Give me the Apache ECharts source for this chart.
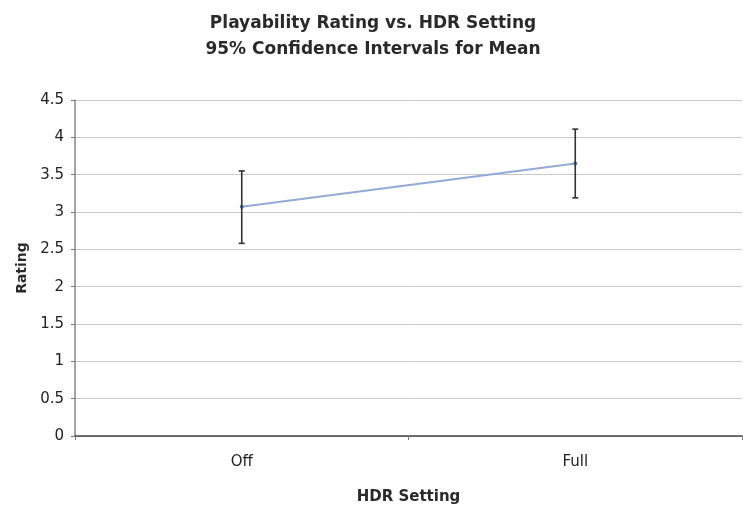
<!DOCTYPE html>
<html><head><meta charset="utf-8">
<script src="https://cdn.jsdelivr.net/npm/echarts@6/dist/echarts.min.js"></script>
<style>html,body{margin:0;padding:0;background:#fff}#c{width:743px;height:505px}</style>
</head><body><div id="c"></div>
<script>
const categories = ['Off', 'Full'];
const means = [3.07, 3.65];
const lower = [2.58, 3.19];
const upper = [3.55, 4.11];
const yTicks = [0, 0.5, 1, 1.5, 2, 2.5, 3, 3.5, 4, 4.5];

const chart = echarts.init(document.getElementById('c'));
const font = '"DejaVu Sans", Verdana, sans-serif';
chart.setOption({
  animation: false,
  backgroundColor: '#fff',
  title: {
    text: 'Playability Rating vs. HDR Setting\n95% Confidence Intervals for Mean',
    left: 368, top: 6, textAlign: 'center',
    textStyle: {fontFamily: font, fontSize: 17, fontWeight: 'bold', color: '#2a2a2a', lineHeight: 26}
  },
  grid: {left: 75, right: 1, top: 100, bottom: 69, containLabel: false, outerBoundsMode: 'none'},
  xAxis: {
    type: 'category', data: categories, boundaryGap: true,
    name: 'HDR Setting', nameLocation: 'middle', nameGap: 54,
    nameTextStyle: {fontFamily: font, fontSize: 15, fontWeight: 'bold', color: '#2a2a2a'},
    axisLine: {lineStyle: {color: '#444', width: 1.5}},
    axisTick: {show: true, length: 4, lineStyle: {color: '#777'}},
    axisLabel: {fontFamily: font, fontSize: 15, color: '#222', margin: 19}
  },
  yAxis: {
    type: 'value', min: 0, max: 4.5, interval: 0.5,
    name: 'Rating', nameLocation: 'middle', nameGap: 46, nameRotate: 90,
    nameTextStyle: {fontFamily: font, fontSize: 14, fontWeight: 'bold', color: '#2a2a2a'},
    axisLine: {show: true, lineStyle: {color: '#888', width: 1.5}},
    axisTick: {show: true, length: 4, lineStyle: {color: '#777'}},
    axisLabel: {fontFamily: font, fontSize: 15, color: '#222', margin: 11,
      formatter: v => yTicks.includes(v) ? String(v) : ''},
    splitLine: {lineStyle: {color: '#c8c8c8', width: 1}}
  },
  series: [
    {
      type: 'line', data: means, symbol: 'circle', symbolSize: 4,
      lineStyle: {color: '#93a9d6', width: 2},
      itemStyle: {color: '#5b74b8'}, z: 3
    },
    {
      type: 'custom', z: 4,
      data: categories.map((c, i) => [i, lower[i], upper[i]]),
      renderItem: (params, api) => {
        const lo = api.coord([api.value(0), api.value(1)]);
        const hi = api.coord([api.value(0), api.value(2)]);
        const hw = 3;
        const st = {stroke: '#333', lineWidth: 1.6};
        return {type: 'group', children: [
          {type: 'line', shape: {x1: lo[0], y1: lo[1], x2: hi[0], y2: hi[1]}, style: st},
          {type: 'line', shape: {x1: lo[0]-hw, y1: lo[1], x2: lo[0]+hw, y2: lo[1]}, style: st},
          {type: 'line', shape: {x1: hi[0]-hw, y1: hi[1], x2: hi[0]+hw, y2: hi[1]}, style: st}
        ]};
      }
    }
  ]
});
</script></body></html>
